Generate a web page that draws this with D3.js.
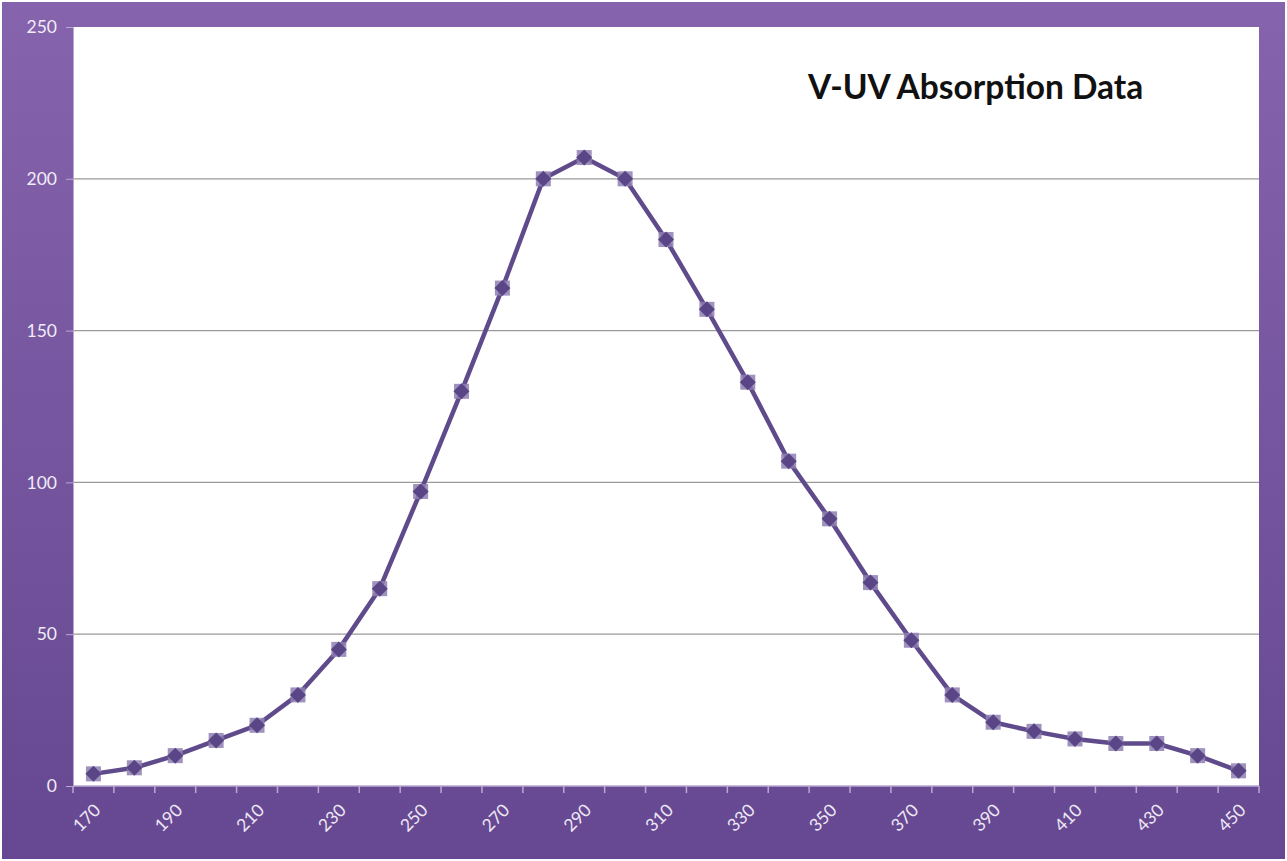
<!DOCTYPE html>
<html>
<head>
<meta charset="utf-8">
<script src="https://cdn.jsdelivr.net/npm/d3@7"></script>
<style>
  html, body { margin: 0; padding: 0; background: #fff; }
  svg { display: block; }
</style>
</head>
<body>
<div id="chart"></div>
<script>
// wavelength categories and absorption readings
const wavelengths = [170, 180, 190, 200, 210, 220, 230, 240, 250, 260, 270, 280, 290, 300, 310,
  320, 330, 340, 350, 360, 370, 380, 390, 400, 410, 420, 430, 440, 450];
const absorption = [4, 6, 10, 15, 20, 30, 45, 65, 97, 130, 164, 200, 207, 200, 180,
  157, 133, 107, 88, 67, 48, 30, 21, 18, 15.5, 14, 14, 10, 5];
const yTicks = [0, 50, 100, 150, 200, 250];
const xTickLabels = [170, 190, 210, 230, 250, 270, 290, 310, 330, 350, 370, 390, 410, 430, 450];
const title = 'V-UV Absorption Data';

const W = 1287, H = 861;
const margin = { top: 27, right: 28, bottom: 75, left: 73 };
const w = W - margin.left - margin.right;
const h = H - margin.top - margin.bottom;

const svg = d3.select('#chart').append('svg')
  .attr('width', W).attr('height', H);

// purple gradient frame
const defs = svg.append('defs');
const grad = defs.append('linearGradient')
  .attr('id', 'bg').attr('x1', 0).attr('y1', 0).attr('x2', 0).attr('y2', 1);
grad.append('stop').attr('offset', '0%').attr('stop-color', '#8663ad');
grad.append('stop').attr('offset', '100%').attr('stop-color', '#654891');

svg.append('rect')
  .attr('x', 2).attr('y', 2).attr('width', W - 4).attr('height', H - 4)
  .attr('fill', 'url(#bg)');

const g = svg.append('g')
  .attr('transform', `translate(${margin.left},${margin.top})`);

g.append('rect')
  .attr('width', w).attr('height', h)
  .attr('fill', '#fff');

const x = d3.scaleBand()
  .domain(wavelengths)
  .range([0, w])
  .padding(0);

const y = d3.scaleLinear()
  .domain([0, 250])
  .range([h, 0]);

// gridlines
g.append('g')
  .selectAll('line')
  .data(yTicks.filter(d => d > 0 && d < 250))
  .join('line')
  .attr('x1', 0).attr('x2', w)
  .attr('y1', d => y(d)).attr('y2', d => y(d))
  .attr('stroke', '#9a9a9a')
  .attr('stroke-width', 1.2);

// y axis
const yAxis = g.append('g')
  .call(d3.axisLeft(y).tickValues(yTicks).tickSize(7).tickPadding(9));
yAxis.select('.domain').attr('stroke', '#b9a9d0');
yAxis.selectAll('.tick line').attr('stroke', '#b9a9d0');
yAxis.selectAll('text')
  .attr('fill', '#f1ecf6')
  .attr('font-family', 'Lato, "Open Sans", sans-serif')
  .attr('font-size', 17.5);

// x axis: ticks on category boundaries
const xAxis = g.append('g')
  .attr('transform', `translate(0,${h})`);
xAxis.append('line')
  .attr('x1', 0).attr('x2', w)
  .attr('stroke', '#b9a9d0').attr('stroke-width', 1.5);
xAxis.selectAll('.xt')
  .data(wavelengths.concat(['end']))
  .join('line')
  .attr('class', 'xt')
  .attr('x1', (d, i) => i * x.bandwidth())
  .attr('x2', (d, i) => i * x.bandwidth())
  .attr('y1', 0).attr('y2', 7)
  .attr('stroke', '#b9a9d0').attr('stroke-width', 1.5);
xAxis.selectAll('.xl')
  .data(xTickLabels)
  .join('text')
  .attr('class', 'xl')
  .attr('transform', d => `translate(${x(d) + x.bandwidth() / 2 + 4},${21}) rotate(-45)`)
  .attr('text-anchor', 'end')
  .attr('dy', '0.35em')
  .attr('fill', '#ede6f4')
  .attr('font-family', 'Lato, "Open Sans", sans-serif')
  .attr('font-size', 17.5)
  .text(d => d);

// series line
const line = d3.line()
  .x((d, i) => x(wavelengths[i]) + x.bandwidth() / 2)
  .y(d => y(d));

g.append('path')
  .datum(absorption)
  .attr('d', line)
  .attr('fill', 'none')
  .attr('stroke', '#5f4b8b')
  .attr('stroke-width', 4.5)
  .attr('stroke-linejoin', 'round');

// markers: pale square with a dark diamond on top
const pts = g.append('g')
  .selectAll('g')
  .data(absorption)
  .join('g')
  .attr('transform', (d, i) => `translate(${x(wavelengths[i]) + x.bandwidth() / 2},${y(d)})`);

pts.append('rect')
  .attr('x', -7.5).attr('y', -7.5).attr('width', 15).attr('height', 15)
  .attr('fill', '#8e7fb2')
  .attr('opacity', 0.85);

pts.append('path')
  .attr('d', 'M0,-8L8,0L0,8L-8,0Z')
  .attr('fill', '#5a4686');

// title
svg.append('text')
  .attr('x', 808).attr('y', 99)
  .attr('fill', '#111')
  .attr('font-family', 'Lato, "Open Sans", sans-serif')
  .attr('font-weight', 'bold')
  .attr('font-size', 33.5)
  .text(title);
</script>
</body>
</html>
